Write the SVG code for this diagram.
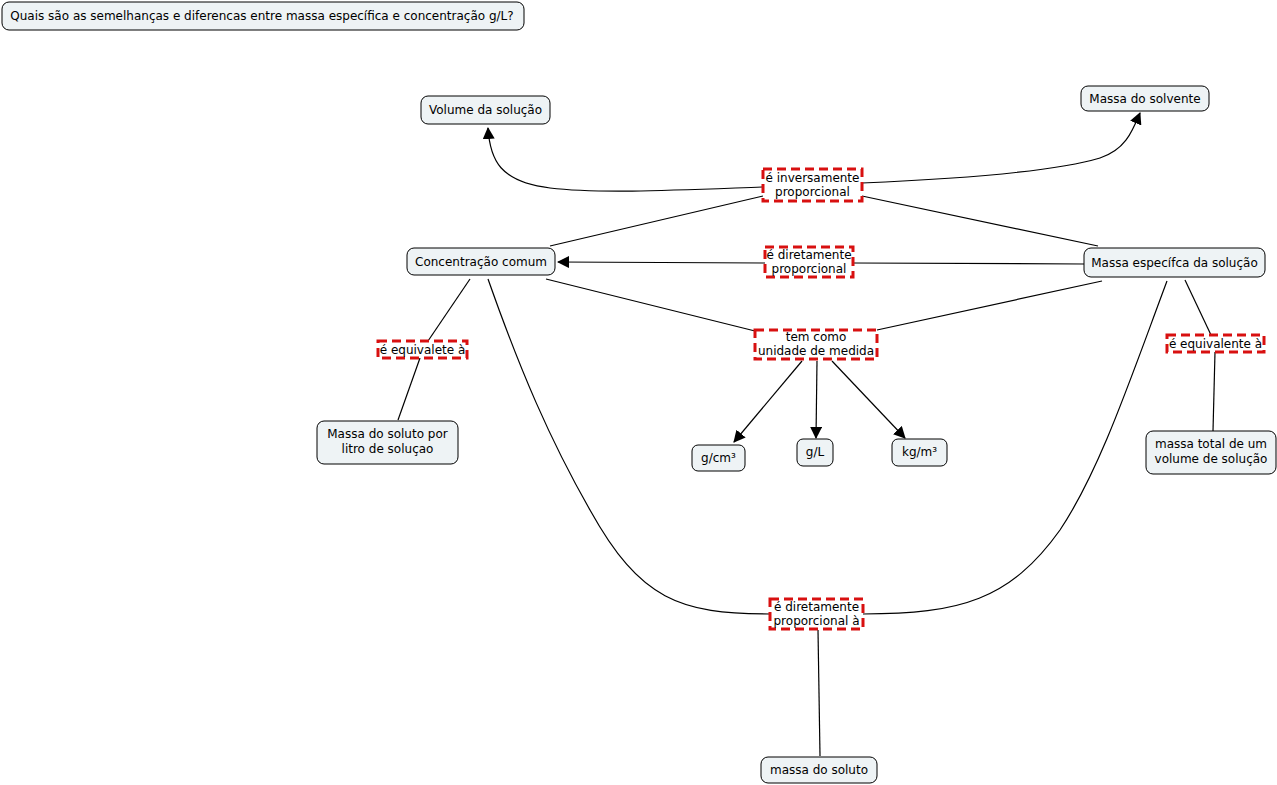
<svg xmlns="http://www.w3.org/2000/svg" width="1277" height="785" viewBox="0 0 1277 785">
<defs>
<marker id="arr" markerWidth="12" markerHeight="12" refX="11" refY="6" orient="auto" markerUnits="userSpaceOnUse">
<path d="M0,0 L12,6 L0,12 Z" fill="#000"/>
</marker>
<style>
.n rect{fill:#eef3f5;stroke:#000;stroke-width:1}
.l rect{fill:#fff;stroke:#d81010;stroke-width:3;stroke-dasharray:9,5}
text{font-family:"DejaVu Sans",Verdana,sans-serif;font-size:12px;fill:#000;text-anchor:middle}
#connectors path,#connectors line{stroke:#000;stroke-width:1.2;fill:none}
</style>
</defs>
<rect width="1277" height="785" fill="#fff"/>
<g id="connectors">
<path d="M762,187 C680,190 600,194 550,188 C500,182 490,160 488,128" marker-end="url(#arr)"/>
<path d="M862,183 C980,178 1060,170 1100,158 C1125,150 1132,132 1140,113" marker-end="url(#arr)"/>
<line x1="550" y1="246" x2="763" y2="196"/>
<line x1="862" y1="196" x2="1098" y2="246"/>
<line x1="1084" y1="264" x2="853" y2="263"/>
<line x1="765" y1="263" x2="558" y2="262" marker-end="url(#arr)"/>
<line x1="546" y1="279" x2="755" y2="331"/>
<line x1="877" y1="330" x2="1102" y2="281"/>
<line x1="802" y1="361" x2="734" y2="442" marker-end="url(#arr)"/>
<line x1="817" y1="361" x2="816" y2="438" marker-end="url(#arr)"/>
<line x1="832" y1="361" x2="905" y2="438" marker-end="url(#arr)"/>
<line x1="470" y1="279" x2="428" y2="341"/>
<line x1="420" y1="358" x2="398" y2="420"/>
<line x1="1185" y1="280" x2="1211" y2="335"/>
<line x1="1215" y1="352" x2="1213" y2="431"/>
<path d="M488,279 C520,370 550,440 590,510 C640,600 680,614 770,614"/>
<path d="M1167,281 C1130,380 1100,470 1060,530 C1010,600 960,614 863,614"/>
<line x1="818" y1="630" x2="820" y2="756"/>
</g>
<g id="title" class="n"><rect x="2" y="2" width="522" height="28" rx="7"/><text x="262" y="20">Quais são as semelhanças e diferencas entre massa específica e concentração g/L?</text></g>
<g id="volume" class="n"><rect x="421" y="96" width="129" height="28" rx="7"/><text x="485.5" y="114">Volume da solução</text></g>
<g id="solvente" class="n"><rect x="1081" y="86" width="128" height="25" rx="7"/><text x="1145" y="103">Massa do solvente</text></g>
<g id="concentracao" class="n"><rect x="407" y="248" width="148" height="27" rx="7"/><text x="481" y="266">Concentração comum</text></g>
<g id="massaespecifica" class="n"><rect x="1084" y="248" width="181" height="29" rx="7"/><text x="1174.5" y="267">Massa específca da solução</text></g>
<g id="solutolitro" class="n"><rect x="317" y="421" width="141" height="43" rx="7"/><text x="387.5" y="438">Massa do soluto por</text><text x="387.5" y="453">litro de soluçao</text></g>
<g id="gcm3" class="n"><rect x="692" y="445" width="53" height="26" rx="6"/><text x="718.5" y="462">g/cm³</text></g>
<g id="gL" class="n"><rect x="797" y="439" width="36" height="27" rx="6"/><text x="815" y="456">g/L</text></g>
<g id="kgm3" class="n"><rect x="892" y="439" width="55" height="27" rx="6"/><text x="919.5" y="456">kg/m³</text></g>
<g id="massatotal" class="n"><rect x="1146" y="431" width="130" height="43" rx="7"/><text x="1211" y="448">massa total de um</text><text x="1211" y="463">volume de solução</text></g>
<g id="massasoluto" class="n"><rect x="761" y="757" width="116" height="26" rx="7"/><text x="819" y="774">massa do soluto</text></g>
<g id="l-inversamente" class="l"><rect x="763" y="169" width="99" height="32"/><text x="812.5" y="182">é inversamente</text><text x="812.5" y="196">proporcional</text></g>
<g id="l-diretamente" class="l"><rect x="765" y="247" width="88" height="30"/><text x="809" y="259">é diretamente</text><text x="809" y="273">proporcional</text></g>
<g id="l-unidade" class="l"><rect x="755" y="330" width="122" height="29"/><text x="816" y="341">tem como</text><text x="816" y="355">unidade de medida</text></g>
<g id="l-equivalete" class="l"><rect x="378" y="341" width="89" height="17"/><text x="422.5" y="354">é equivalete à</text></g>
<g id="l-equivalente" class="l"><rect x="1167" y="335" width="97" height="17"/><text x="1215.5" y="348">é equivalente à</text></g>
<g id="l-diretamente2" class="l"><rect x="770" y="599" width="93" height="30"/><text x="816.5" y="611">é diretamente</text><text x="816.5" y="625">proporcional à</text></g>
</svg>
